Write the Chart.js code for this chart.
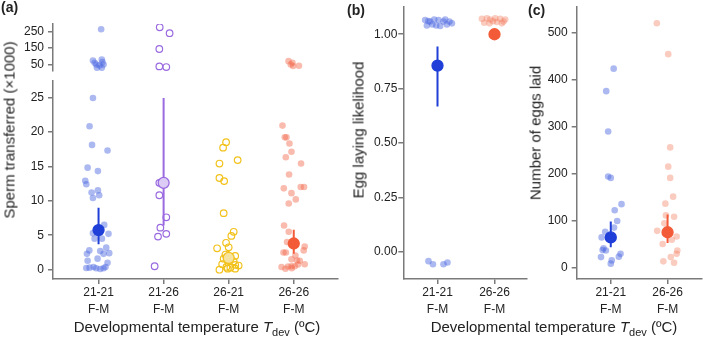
<!DOCTYPE html>
<html>
<head>
<meta charset="utf-8">
<script src="https://cdn.jsdelivr.net/npm/chart.js@4.4.0/dist/chart.umd.min.js"></script>
<style>
body { margin: 0; background: #fff; }
#wrap { position: relative; width: 709px; height: 337px; overflow: hidden; font-family: "Liberation Sans", Arial, sans-serif; color: #222; }
canvas { position: absolute; }
.lbl { position: absolute; font-weight: bold; font-size: 14px; line-height: 16px; }
.xt { position: absolute; font-size: 15px; line-height: 17px; white-space: nowrap; transform: translateX(-50%); }
.yt { position: absolute; font-size: 15px; line-height: 17px; white-space: nowrap; transform: translate(-50%, -50%) rotate(-90deg); }
.xt sub { font-size: 11px; vertical-align: baseline; position: relative; top: 4px; }
</style>
</head>
<body>
<div id="wrap">
  <canvas id="aTop" width="345" height="80" style="left:0;top:0"></canvas>
  <canvas id="aLow" width="345" height="263" style="left:0;top:74px"></canvas>
  <canvas id="bChart" width="190" height="337" style="left:345px;top:0"></canvas>
  <canvas id="cChart" width="174" height="337" style="left:535px;top:0"></canvas>

  <div class="lbl" style="left:1px;top:-1px">(a)</div>
  <div class="lbl" style="left:347px;top:2px">(b)</div>
  <div class="lbl" style="left:528px;top:2px">(c)</div>

  <div class="yt" style="left:9px;top:130px">Sperm transferred (×1000)</div>
  <div class="yt" style="left:358px;top:130px">Egg laying likelihood</div>
  <div class="yt" style="left:535px;top:133px">Number of eggs laid</div>

  <div class="xt" style="left:197px;top:318px">Developmental temperature <i>T</i><sub>dev</sub> (ºC)</div>
  <div class="xt" style="left:554px;top:318px">Developmental temperature <i>T</i><sub>dev</sub> (ºC)</div>
</div>

<script>
// ---- data ----
const catsA = [['21-21', 'F-M'], ['21-26', 'F-M'], ['26-21', 'F-M'], ['26-26', 'F-M']];
const catsBC = [['21-21', 'F-M'], ['26-26', 'F-M']];

const ticksAUpper = [50, 150, 250];
const ticksALower = [0, 5, 10, 15, 20, 25];
const ticksB = [0, 0.25, 0.5, 0.75, 1];
const ticksC = [0, 100, 200, 300, 400, 500];

// sperm transferred (x1000), raw points + horizontal jitter (category units)
const sperm2121 = [264, 80, 74, 64, 60, 50, 50, 44, 30, 30,
  24.9, 20.8, 18.1, 17.3, 14.8, 14.3, 12.9, 12.4, 11.5, 11.2, 10.8, 10.4,
  6.5, 5.3, 5.2, 4.5, 4.5, 3.2, 2.8, 2.7, 2.3, 2.4, 2.3, 1.6, 1.3, 1.0,
  0.25, 0.3, 0.4, 0.2, 0.1, 0.2, 0.4];
const sperm2121Jit = [0.04, 0.05, -0.086, 0.06, -0.06, -0.035, 0.077, 0.015, -0.025, 0.05,
  -0.086, -0.138, -0.1, 0.138, -0.168, -0.01, -0.204, -0.188, -0.01, -0.107, 0.01, -0.086,
  0.087, -0.086, 0.153, -0.061, 0.052, 0.118, -0.142, 0.026, -0.178, 0.164, 0.077, -0.015, -0.168, 0.138,
  -0.188, -0.138, -0.077, -0.035, 0.026, 0.077, 0.107];

const sperm2126 = [276, 240, 144, 38, 34, 12.6, 10.8, 7.6, 6.1, 5.2, 4.8, 0.5];
const sperm2126Jit = [-0.06, 0.092, -0.066, -0.066, 0.041, -0.066, -0.066, 0.041, -0.05, 0.041, -0.086, -0.138];

const sperm2621 = [18.5, 17.7, 15.9, 15.4, 13.3, 12.85, 8.2, 5.5, 4.9, 3.9, 3.25, 3.1,
  2.2, 2.0, 1.6, 1.3, 1.2, 0.7, 0.6, 0.4, 0.3, 0.15, 0.15, 0.0, 0.8];
const sperm2621Jit = [-0.04, -0.086, 0.138, -0.142, -0.142, -0.07, -0.077, 0.077, 0.041, -0.04, 0, -0.178,
  -0.05, 0.1, -0.077, -0.01, 0.077, 0.1, 0.153, -0.035, 0.026, -0.015, 0.1, -0.142, -0.1];

const sperm2626 = [70, 60, 50, 40, 42,
  20.9, 19.2, 19.2, 18.3, 17.1, 16.3, 15.4, 13.8, 12.0, 12.0, 11.8, 11.1, 10.2, 9.6,
  6.4, 5.5, 4.0, 3.35, 2.8, 2.5, 2.5, 2.06, 1.5, 1.34, 1.3, 0.8, 0.76, 0.47, 0.5, 0.5, 0.38, 0.14, 0.2];
const sperm2626Jit = [-0.08, -0.02, -0.046, -0.01, 0.08,
  -0.173, -0.138, -0.112, -0.066, -0.035, -0.122, 0.112, -0.072, 0.107, 0.158, -0.153, -0.035, 0.031, -0.077,
  -0.149, -0.077, -0.103, 0.168, 0.153, -0.158, -0.122, 0.026, -0.035, 0.05, 0.092, 0.168, 0.066, -0.087, -0.035, 0.015, -0.188, -0.127, -0.03];

const spermMean = [5.75, 12.6, 1.7, 3.8];
const spermLo = [3.7, 6.4, 0.9, 2.3];
const spermHi = [9.0, 24.9, 2.8, 5.8];

// egg laying likelihood (0/1 jittered)
const lay2121 = [1.065, 1.04, 1.058, 1.068, 1.04, 1.065, 1.038, 1.058, 1.068, 1.045, 1.058, 1.05, 1.06, 1.045,
  -0.042, -0.056, -0.056, -0.048];
const lay2121Jit = [-0.216, -0.186, -0.128, -0.058, -0.023, 0.018, 0.047, 0.105, 0.135, 0.165, 0.21, 0.253, -0.16, -0.09,
  -0.158, -0.08, 0.105, 0.175];
const lay2626 = [1.071, 1.073, 1.068, 1.073, 1.071, 1.068, 1.053, 1.05, 1.056, 1.05, 1.06, 1.058];
const lay2626Jit = [-0.221, -0.133, -0.075, 0.012, 0.1, 0.188, -0.181, -0.088, 0.042, 0.129, -0.028, 0.158];
const layMean = [0.856, 1.0];
const layLo = [0.668, 1.0];
const layHi = [0.944, 1.0];

// number of eggs laid
const eggs2121 = [424, 376, 290, 194, 191, 135, 122, 99, 85, 76, 64, 41, 36, 37, 22, 15, 8, 29, 23];
const eggs2121Jit = [0.051, -0.08, -0.046, -0.046, 0, 0.189, 0.069, 0.113, 0.057, -0.098, -0.161, -0.127, -0.086, -0.144, -0.172, 0.017, 0, 0.172, 0.142];
const eggs2626 = [521, 455, 256, 215, 191, 151, 136, 111, 108, 94, 78, 66, 59, 50, 36, 29, 22, 13, 10];
const eggs2626Jit = [-0.189, 0.012, 0.046, 0.012, 0.046, 0.098, -0.039, -0.029, 0.115, -0.057, -0.183, 0.16, 0.074, -0.086, 0.172, 0.16, 0.057, -0.074, 0.115];
const eggsMean = [64, 75];
const eggsLo = [43, 52];
const eggsHi = [98, 113];

// ---- styling ----
const axisColor = '#7a7a7a';
const blueFill = 'rgba(70,100,225,0.45)';
const blueMean = '#1f3fd8';
const purple = '#9a6be0';
const purpleMeanFill = '#dccbf4';
const yellow = '#f2c21c';
const yellowMeanFill = '#f7e3a0';
const redFill = 'rgba(242,105,75,0.45)';
const redLight = 'rgba(242,120,90,0.38)';
const redMean = '#f35b38';
const clear = 'rgba(255,255,255,0)';

Chart.defaults.font.family = '"Liberation Sans", Arial, sans-serif';
Chart.defaults.font.size = 12;
Chart.defaults.color = '#222';

function jittered(cat, vals, jit, keep) {
  const out = [];
  vals.forEach((v, i) => {
    if (!keep || keep(v)) out.push({ x: cat + jit[i], y: v });
  });
  return out;
}

function pointSet(data, fill, stroke, bw) {
  return { type: 'scatter', data: data, pointRadius: 3.3, pointBackgroundColor: fill,
    pointBorderColor: stroke, pointBorderWidth: bw, order: 3 };
}

function ciSet(cat, lo, hi, color) {
  return { type: 'line', data: [{ x: cat, y: lo }, { x: cat, y: hi }], borderColor: color,
    borderWidth: 2, pointRadius: 0, order: 2 };
}

function meanSet(cat, m, fill, stroke) {
  return { type: 'scatter', data: [{ x: cat, y: m }], pointRadius: 5.5, pointBackgroundColor: fill,
    pointBorderColor: stroke, pointBorderWidth: 1.3, order: 1 };
}

function yScale(min, max, ticks, width, pad, fmt) {
  return {
    type: 'linear', min: min, max: max,
    afterBuildTicks: s => { s.ticks = ticks.map(v => ({ value: v })); },
    afterFit: s => { s.width = width; s.paddingTop = 0; s.paddingBottom = 0; },
    ticks: { padding: pad, callback: fmt || (v => v) },
    grid: { drawOnChartArea: false, drawTicks: true, tickLength: 5, color: axisColor, lineWidth: 1.5 },
    border: { display: true, color: axisColor, width: 1.5 }
  };
}

function xScale(min, max, labels, height) {
  return {
    type: 'linear', min: min, max: max,
    afterBuildTicks: s => { s.ticks = labels.map((l, i) => ({ value: i + 1 })); },
    afterFit: s => { s.height = height; s.paddingLeft = 0; s.paddingRight = 0; },
    ticks: { padding: 1, autoSkip: false, maxRotation: 0, font: { lineHeight: 1.35 },
      callback: v => labels[Math.round(v) - 1] },
    grid: { drawOnChartArea: false, drawTicks: true, tickLength: 5, color: axisColor, lineWidth: 1.5 },
    border: { display: true, color: axisColor, width: 1.5 }
  };
}

function makeChart(id, datasets, scales, padding) {
  return new Chart(document.getElementById(id), {
    type: 'scatter',
    data: { datasets: datasets },
    options: {
      responsive: false,
      animation: false,
      layout: { padding: padding },
      scales: scales,
      plugins: { legend: { display: false }, tooltip: { enabled: false } }
    }
  });
}

// ---- panel (a): broken axis, upper part ----
const high = v => v > 28;
const low = v => v <= 28;
makeChart('aTop', [
  pointSet(jittered(1, sperm2121, sperm2121Jit, high), blueFill, clear, 0),
  pointSet(jittered(2, sperm2126, sperm2126Jit, high), clear, purple, 1.2),
  pointSet(jittered(4, sperm2626, sperm2626Jit, high), redFill, clear, 0)
], {
  x: { type: 'linear', min: 0.3, max: 4.68, display: false },
  y: yScale(10, 296, ticksAUpper, 53, 4)
}, { top: 24, right: 7, bottom: 9, left: 0 });

// ---- panel (a): lower part ----
makeChart('aLow', [
  pointSet(jittered(1, sperm2121, sperm2121Jit, low), blueFill, clear, 0),
  pointSet(jittered(2, sperm2126, sperm2126Jit, low), clear, purple, 1.2),
  pointSet(jittered(3, sperm2621, sperm2621Jit, low), clear, yellow, 1.2),
  pointSet(jittered(4, sperm2626, sperm2626Jit, low), redFill, clear, 0),
  ciSet(1, spermLo[0], spermHi[0], blueMean),
  ciSet(2, spermLo[1], spermHi[1], purple),
  ciSet(3, spermLo[2], spermHi[2], yellow),
  ciSet(4, spermLo[3], spermHi[3], redMean),
  meanSet(1, spermMean[0], blueMean, blueMean),
  meanSet(2, spermMean[1], purpleMeanFill, purple),
  meanSet(3, spermMean[2], yellowMeanFill, yellow),
  meanSet(4, spermMean[3], redMean, redMean)
], {
  x: xScale(0.3, 4.68, catsA, 58),
  y: yScale(-1.35, 27.4, ticksALower, 53, 4)
}, { top: 5, right: 7, bottom: 0, left: 0 });

// ---- panel (b) ----
makeChart('bChart', [
  pointSet(jittered(1, lay2121, lay2121Jit), blueFill, clear, 0),
  pointSet(jittered(2, lay2626, lay2626Jit), redLight, clear, 0),
  ciSet(1, layLo[0], layHi[0], blueMean),
  ciSet(2, layLo[1], layHi[1], redMean),
  meanSet(1, layMean[0], blueMean, blueMean),
  meanSet(2, layMean[1], redMean, redMean)
], {
  x: xScale(0.4, 2.57, catsBC, 58),
  y: yScale(-0.124, 1.126, ticksB, 58.3, 1, v => v.toFixed(2))
}, { top: 4, right: 8, bottom: 0, left: 0 });

// ---- panel (c) ----
makeChart('cChart', [
  pointSet(jittered(1, eggs2121, eggs2121Jit), blueFill, clear, 0),
  pointSet(jittered(2, eggs2626, eggs2626Jit), redLight, clear, 0),
  ciSet(1, eggsLo[0], eggsHi[0], blueMean),
  ciSet(2, eggsLo[1], eggsHi[1], redMean),
  meanSet(1, eggsMean[0], blueMean, blueMean),
  meanSet(2, eggsMean[1], redMean, redMean)
], {
  x: xScale(0.4, 2.61, catsBC, 58),
  y: yScale(-24.7, 556, ticksC, 41.7, 4)
}, { top: 4, right: 3.3, bottom: 0, left: 0 });
</script>
</body>
</html>
